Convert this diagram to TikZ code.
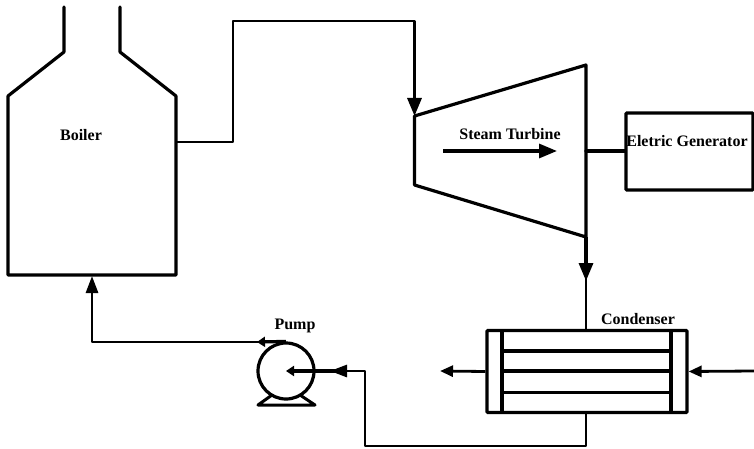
\documentclass[tikz,border=0pt]{standalone}
\usepackage{fontspec}
\setmainfont{Liberation Serif}
\usetikzlibrary{arrows.meta,calc,positioning}
\tikzset{%
	wall/.style     = {draw, line width=3.2pt, line join=round, line cap=round},
	pipe/.style     = {draw, line width=2.6pt, line join=round},
	arrow/.style    = {line width=3.2pt, -{Triangle[length=18pt,width=14pt]}},
	smallarrow/.style = {line width=2.8pt, -{Triangle[length=13pt,width=11pt]}},
	tinyarrow/.style = {line width=3.2pt, -{Triangle[length=8pt,width=10pt]}},
	label/.style    = {font=\bfseries\fontsize{16}{17}\selectfont, inner sep=0pt},
	box/.style      = {draw, line width=3.2pt, rectangle, rounded corners=1pt, inner sep=0pt},
}
\begin{document}
\begin{tikzpicture}[x=1pt,y=-1pt]
			\useasboundingbox (0,0) rectangle (754,449);
			\draw[wall] (64,7) -- (64,52) -- (8,96) -- (8,275) -- (176,275) -- (176,96) -- (120,52) -- (120,7);
			\coordinate (boilerout) at (176,142);
			\coordinate (boilerin) at (92,276);
			\node[label] (boiler) at (81,135) {Boiler};
			\coordinate (turbinein) at (414.5,116);
			\coordinate (turbineout) at (586,237);
			\draw[wall] (turbinein) -- (586,65) -- (turbineout) -- (414.5,185) -- cycle;
			\draw[arrow] (443,151) -- (557,151);
			\node[label] (turbine) at (510,134) {Steam Turbine};
			\node[box,minimum width=127pt,minimum height=77pt] (generator) at (689.5,151.5) {};
			\node[label] (generatortext) at (687,141) {Eletric Generator};
			\draw[wall] (586,151) -- (generator.west |- 0,151);
			\draw[pipe] (boilerout) -- (233,142) -- (233,21) -- (414.5,21) -- (414.5,90);
			\draw[arrow] (414.5,90) -- (turbinein);
			\coordinate (condenserhead) at (586,281);
			\draw[arrow] (turbineout) -- (condenserhead);
			\node[box,minimum width=200pt,minimum height=82pt] (condenser) at (587,371.5) {};
			\draw[pipe] (586,270) -- (condenser.north -| condenserhead);
			\node[label] (condensertext) at (638,319) {Condenser};
			\draw[line width=4pt] (502,331) -- (502,412);
			\draw[line width=4pt] (671,331) -- (671,412);
			\draw[line width=3.6pt] (502,351) -- (671,351);
			\draw[line width=3.2pt] (502,371) -- (671,371);
			\draw[line width=3pt] (502,392) -- (671,392);
			\coordinate (waterout) at (440,371);
			\coordinate (waterin) at (754,371);
			\draw[smallarrow] (condenser.west) -- (waterout);
			\draw[smallarrow] (waterin) -- (condenser.east);
			\draw[line width=3pt, line join=round] (258,405) -- (272,395) -- (300,395) -- (315,405) -- cycle;
			\node[draw,circle,fill=white,line width=3.2pt,minimum size=56pt,inner sep=0pt] (pump) at (286,371) {};
			\node[label] (pumptext) at (295,326) {Pump};
			\coordinate (pumphead) at (330,371);
			\draw[pipe] (condenser.south -| condenserhead) -- (586,446) -- (365,446) -- (365,371) -- (340,371);
			\draw[smallarrow,-{Triangle[length=17pt,width=12pt]}] (350,371) -- (pumphead);
			\draw[tinyarrow] (340,371) -- (pump.center);
			\coordinate (pumpout) at (pump.north);
			\draw[tinyarrow] (pumpout) -- (257,342);
			\draw[pipe] (262,342) -- (92,342) -- (92,285);
			\draw[smallarrow,-{Triangle[length=17pt,width=12pt]}] (92,295) -- (boilerin);
			\end{tikzpicture}
\end{document}
